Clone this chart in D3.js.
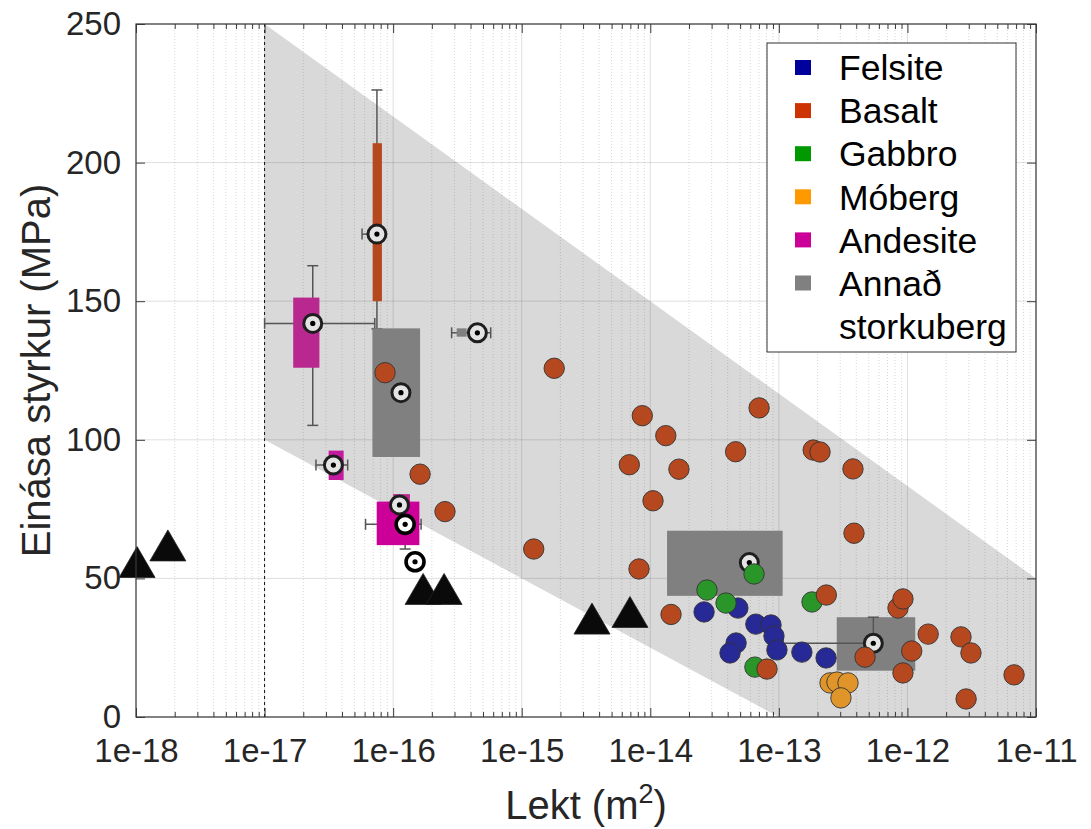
<!DOCTYPE html>
<html>
<head>
<meta charset="utf-8">
<script src="https://cdn.jsdelivr.net/npm/d3@7/dist/d3.min.js"></script>
<style>
  html, body { margin: 0; padding: 0; background: #fff; }
  svg { display: block; font-family: "Liberation Sans", Arial, Helvetica, sans-serif; }
</style>
</head>
<body>
<svg id="chart" width="1091" height="829"></svg>
<script>
// ---------------- DATA ----------------
const xTickValues = [1e-18, 1e-17, 1e-16, 1e-15, 1e-14, 1e-13, 1e-12, 1e-11];
const xTickLabels = ['1e-18', '1e-17', '1e-16', '1e-15', '1e-14', '1e-13', '1e-12', '1e-11'];
const yTickValues = [0, 50, 100, 150, 200, 250];
const xDomain = [1e-18, 1e-11];
const yDomain = [0, 250];

const legendLabels = ['Felsite', 'Basalt', 'Gabbro', 'Móberg', 'Andesite', 'Annað\nstorkuberg'];

// gray band (permeability, strength)
const bandPoints = [[1e-17, 250], [1e-11, 50], [1e-11, 0], [1e-13, 0], [1e-17, 100]];
const dashedLineX = 1e-17;

// scatter series [permeability m^2, UCS MPa]
const felsite = [
  [2.62e-14, 37.9], [4.80e-14, 39.3], [6.62e-14, 33.5], [8.69e-14, 33.2], [9.16e-14, 29.2],
  [4.65e-14, 26.7], [4.17e-14, 23.1], [9.66e-14, 24.2], [1.51e-13, 23.4], [2.33e-13, 21.3]
];
const gabbro = [
  [2.76e-14, 45.8], [3.88e-14, 41.1], [6.41e-14, 51.6], [1.81e-13, 41.5], [6.51e-14, 18.0]
];
const moberg = [
  [2.50e-13, 12.3], [2.83e-13, 12.6], [3.45e-13, 12.3], [3.04e-13, 6.9]
];
const basalt = [
  [8.65e-17, 124.2], [1.62e-16, 87.6], [2.53e-16, 74.1], [1.24e-15, 60.6], [1.79e-15, 125.8],
  [8.67e-15, 108.7], [6.87e-15, 91.0], [8.17e-15, 53.4], [1.32e-14, 101.5], [1.67e-14, 89.4],
  [1.05e-14, 78.0], [1.45e-14, 37.0], [4.61e-14, 95.7], [7.02e-14, 111.5], [1.85e-13, 96.3],
  [2.09e-13, 95.6], [3.77e-13, 89.5], [3.84e-13, 66.3], [2.34e-13, 44.0], [8.09e-14, 17.3],
  [4.68e-13, 21.6], [8.45e-13, 39.3], [9.23e-13, 42.6], [1.08e-12, 23.8], [9.23e-13, 15.9],
  [1.45e-12, 29.9], [2.61e-12, 28.9], [3.12e-12, 23.1], [2.86e-12, 6.5], [6.75e-12, 15.2]
];
const otherTriangles = [
  [1.02e-18, 55.9], [1.77e-18, 61.9], [1.71e-16, 46.2], [2.49e-16, 46.2], [3.52e-15, 35.5], [6.95e-15, 37.9]
];

// summary markers: centre, box range [x0,x1,y0,y1], whisker ranges
const summaries = [
  { type: 'Basalt',   x: 7.48e-17, y: 174.2, box: [6.93e-17, 8.18e-17, 150.0, 207.0], wx: [5.73e-17, 7.48e-17], wy: [140.0, 226.2] },
  { type: 'Andesite', x: 2.37e-17, y: 142.0, box: [1.67e-17, 2.67e-17, 126.0, 151.3], wx: [1.0e-17, 7.2e-17],   wy: [105.2, 162.8] },
  { type: 'Annað',    x: 1.15e-16, y: 117.0, box: [6.9e-17, 1.62e-16, 93.8, 140.2],   wx: null, wy: null },
  { type: 'Andesite', x: 3.43e-17, y: 90.9,  box: [3.15e-17, 4.12e-17, 85.5, 96.1],   wx: [2.51e-17, 4.43e-17], wy: null },
  { type: 'Andesite', x: 1.12e-16, y: 76.5,  box: [1.0e-16, 1.35e-16, 70.0, 80.4],    wx: null, wy: null },
  { type: 'Andesite', x: 1.24e-16, y: 69.5,  box: [7.45e-17, 1.6e-16, 62.0, 77.7],    wx: [6.1e-17, 1.65e-16],  wy: [60.6, 69.5] },
  { type: 'Andesite', x: 1.48e-16, y: 56.0,  box: null, wx: null, wy: null },
  { type: 'Annað',    x: 4.52e-16, y: 138.6, box: [3.12e-16, 3.73e-16, 137.2, 140.2], wx: [2.85e-16, 5.74e-16], wy: null },
  { type: 'Annað',    x: 5.89e-14, y: 55.7,  box: [1.35e-14, 1.07e-13, 43.7, 67.2],   wx: null, wy: null },
  { type: 'Annað',    x: 5.43e-13, y: 26.6,  box: [2.82e-13, 1.15e-12, 16.7, 36.0],   wx: [1.08e-13, 5.43e-13], wy: [26.6, 36.0] }
];

// ---------------- STYLE ----------------
const legendColors = ['#00009c', '#cc3300', '#009900', '#ff9900', '#cc0099', '#808080'];
const markerColors = { felsite: '#262996', gabbro: '#2a962a', moberg: '#e0952b', basalt: '#b5481f' };
const boxFills = ['#b5481f', '#b8288f', '#808080', '#c41aa0', '#b8288f', '#cc0099', null, '#808080', '#808080', '#808080'];
const openMarkers = [5, 6];
const whiskerOnTop = [9];

const M = { left: 136, right: 1036, top: 24, bottom: 717 };

const svg = d3.select('#chart');
const x = d3.scaleLog().domain(xDomain).range([M.left, M.right]);
const y = d3.scaleLinear().domain(yDomain).range([M.bottom, M.top]);

const minorX = [];
for (let e = -18; e < -11; e++) for (let k = 2; k <= 9; k++) minorX.push(k * Math.pow(10, e));

// band
svg.append('path')
  .attr('d', d3.line().x(d => x(d[0])).y(d => y(d[1]))(bandPoints) + 'Z')
  .attr('fill', '#d9d9d9');

// grid
const grid = svg.append('g');
grid.selectAll('.gmin').data(minorX).join('line')
  .attr('x1', d => x(d)).attr('x2', d => x(d)).attr('y1', M.top).attr('y2', M.bottom)
  .attr('stroke', 'rgba(38,38,38,0.18)').attr('stroke-width', 1).attr('stroke-dasharray', '1,2');
grid.selectAll('.gmaj').data(xTickValues).join('line')
  .attr('x1', d => x(d)).attr('x2', d => x(d)).attr('y1', M.top).attr('y2', M.bottom)
  .attr('stroke', 'rgba(38,38,38,0.15)').attr('stroke-width', 1);
grid.selectAll('.gy').data(yTickValues).join('line')
  .attr('x1', M.left).attr('x2', M.right).attr('y1', d => y(d)).attr('y2', d => y(d))
  .attr('stroke', 'rgba(38,38,38,0.15)').attr('stroke-width', 1);

// dashed line
svg.append('line')
  .attr('x1', x(dashedLineX)).attr('x2', x(dashedLineX)).attr('y1', M.top).attr('y2', M.bottom)
  .attr('stroke', '#111').attr('stroke-width', 1).attr('stroke-dasharray', '3,3');

// summaries
const sumG = svg.append('g');
const cap = 5.5;
function drawWhiskers(g, s) {
  const wc = '#555';
  if (s.wx) {
    const yy = y(s.y);
    g.append('line').attr('x1', x(s.wx[0])).attr('x2', x(s.wx[1])).attr('y1', yy).attr('y2', yy)
      .attr('stroke', wc).attr('stroke-width', 1.5);
    s.wx.forEach(v => {
      if (Math.abs(v - s.x) / s.x > 0.01)
        g.append('line').attr('x1', x(v)).attr('x2', x(v)).attr('y1', yy - cap).attr('y2', yy + cap)
          .attr('stroke', wc).attr('stroke-width', 1.5);
    });
  }
  if (s.wy) {
    const xx = x(s.x);
    g.append('line').attr('x1', xx).attr('x2', xx).attr('y1', y(s.wy[0])).attr('y2', y(s.wy[1]))
      .attr('stroke', wc).attr('stroke-width', 1.5);
    s.wy.forEach(v => {
      if (Math.abs(v - s.y) > 0.5)
        g.append('line').attr('x1', xx - cap).attr('x2', xx + cap).attr('y1', y(v)).attr('y2', y(v))
          .attr('stroke', wc).attr('stroke-width', 1.5);
    });
  }
}
summaries.forEach((s, i) => {
  if (!whiskerOnTop.includes(i)) drawWhiskers(sumG, s);
  if (s.box) {
    sumG.append('rect')
      .attr('x', x(s.box[0])).attr('width', x(s.box[1]) - x(s.box[0]))
      .attr('y', y(s.box[3])).attr('height', y(s.box[2]) - y(s.box[3]))
      .attr('fill', boxFills[i]);
  }
  if (whiskerOnTop.includes(i)) drawWhiskers(sumG, s);
});
summaries.forEach((s, i) => {
  const open = openMarkers.includes(i);
  sumG.append('circle').attr('cx', x(s.x)).attr('cy', y(s.y)).attr('r', 9)
    .attr('fill', open ? '#ffffff' : '#e4e4e4')
    .attr('stroke', open ? '#000' : '#1e1e1e').attr('stroke-width', open ? 3.6 : 3);
  sumG.append('circle').attr('cx', x(s.x)).attr('cy', y(s.y)).attr('r', 2.6).attr('fill', '#000');
});

// scatter
function scatter(data, color) {
  svg.append('g').selectAll('circle').data(data).join('circle')
    .attr('cx', d => x(d[0])).attr('cy', d => y(d[1])).attr('r', 10.2)
    .attr('fill', color).attr('stroke', '#333').attr('stroke-width', 0.9);
}
scatter(felsite, markerColors.felsite);
scatter(gabbro, markerColors.gabbro);
scatter(moberg, markerColors.moberg);
scatter(basalt, markerColors.basalt);

// triangles
svg.append('g').selectAll('path').data(otherTriangles).join('path')
  .attr('d', d => {
    const cx = x(d[0]), cy = y(d[1]);
    return `M${cx},${cy - 15.5}L${cx + 18},${cy + 15.5}L${cx - 18},${cy + 15.5}Z`;
  })
  .attr('fill', '#0a0a0a').attr('stroke', '#222').attr('stroke-width', 0.8);

// axes
const axisColor = '#3a3a3a';
const fontTick = 33;
function styleAxis(g) {
  g.select('.domain').remove();
  g.selectAll('line').attr('stroke', axisColor).attr('stroke-width', 1);
  g.selectAll('text').attr('fill', '#262626').style('font-size', fontTick + 'px')
    .style('font-family', '"Liberation Sans", Arial, sans-serif');
}
const xi = {};
xTickValues.forEach((v, i) => xi[v] = xTickLabels[i]);

svg.append('g').attr('transform', `translate(0,${M.bottom})`)
  .call(d3.axisBottom(x).tickValues(xTickValues).tickFormat(d => xi[d]).tickSize(-9).tickPadding(22))
  .call(styleAxis);
svg.append('g').attr('transform', `translate(0,${M.bottom})`)
  .call(d3.axisBottom(x).tickValues(minorX).tickFormat('').tickSize(-5))
  .call(styleAxis);
svg.append('g').attr('transform', `translate(0,${M.top})`)
  .call(d3.axisTop(x).tickValues(xTickValues).tickFormat('').tickSize(-9))
  .call(styleAxis);
svg.append('g').attr('transform', `translate(0,${M.top})`)
  .call(d3.axisTop(x).tickValues(minorX).tickFormat('').tickSize(-5))
  .call(styleAxis);
svg.append('g').attr('transform', `translate(${M.left},0)`)
  .call(d3.axisLeft(y).tickValues(yTickValues).tickFormat(d3.format('d')).tickSize(-9).tickPadding(15))
  .call(styleAxis);
svg.append('g').attr('transform', `translate(${M.right},0)`)
  .call(d3.axisRight(y).tickValues(yTickValues).tickFormat('').tickSize(-9))
  .call(styleAxis);

// frame
svg.append('rect').attr('x', M.left).attr('y', M.top)
  .attr('width', M.right - M.left).attr('height', M.bottom - M.top)
  .attr('fill', 'none').attr('stroke', axisColor).attr('stroke-width', 1.2);

// axis labels
svg.append('text').attr('transform', `translate(50,${(M.top + M.bottom) / 2}) rotate(-90)`)
  .attr('text-anchor', 'middle').attr('fill', '#262626').style('font-size', '40px')
  .text('Einása styrkur (MPa)');
const xl = svg.append('text').attr('x', (M.left + M.right) / 2).attr('y', 819)
  .attr('text-anchor', 'middle').attr('fill', '#262626').style('font-size', '40px');
xl.append('tspan').text('Lekt (m');
xl.append('tspan').attr('dy', -16).style('font-size', '27px').text('2');
xl.append('tspan').attr('dy', 16).text(')');

// legend
const lg = svg.append('g');
lg.append('rect').attr('x', 767).attr('y', 43).attr('width', 249).attr('height', 309)
  .attr('fill', '#fff').attr('stroke', '#333').attr('stroke-width', 1);
const rowY0 = 67.5, rowStep = 43.1;
legendLabels.forEach((lab, i) => {
  const cy = rowY0 + i * rowStep;
  lg.append('rect').attr('x', 795).attr('y', cy - 7.5).attr('width', 16).attr('height', 15)
    .attr('fill', legendColors[i]);
  lab.split('\n').forEach((line, j) => {
    lg.append('text').attr('x', 839).attr('y', cy + j * rowStep).attr('dy', '0.36em')
      .attr('fill', '#000').style('font-size', '35.5px').text(line);
  });
});
</script>
</body>
</html>
